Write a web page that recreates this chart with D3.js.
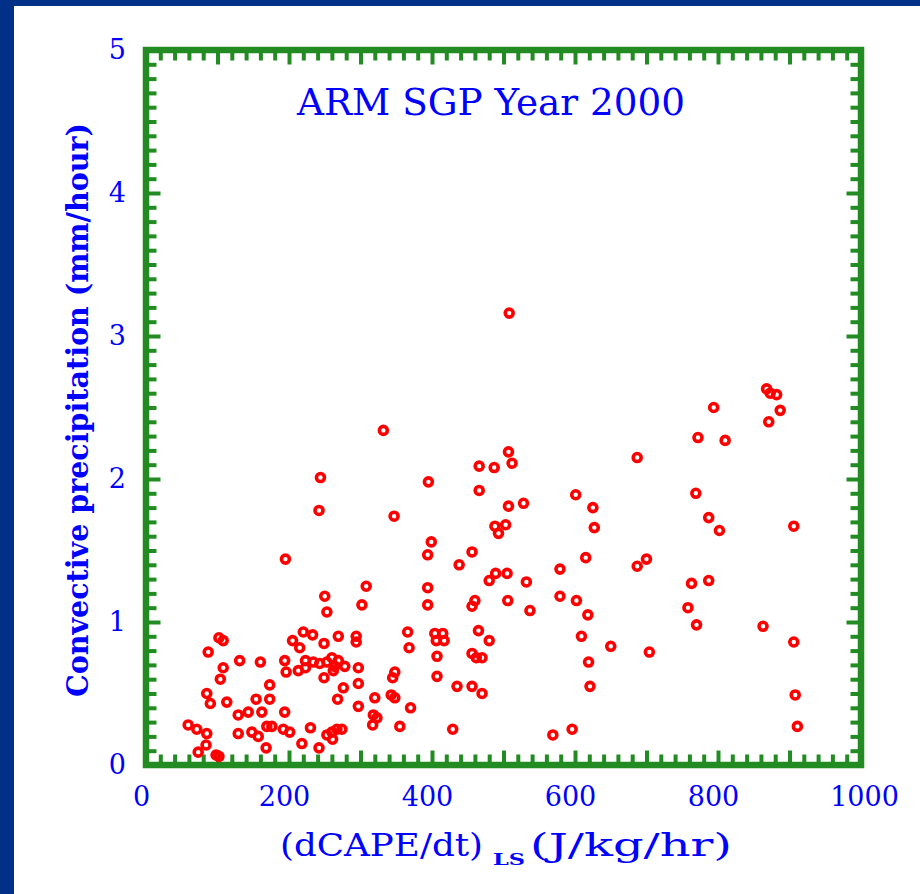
<!DOCTYPE html>
<html><head><meta charset="utf-8">
<script src="https://cdn.jsdelivr.net/npm/d3@7"></script>
<style>html,body{margin:0;padding:0;background:#ffffff;overflow:hidden;} svg{display:block}</style>
</head><body>
<svg id="chart" width="920" height="894"></svg>
<script>
// ---- data ----
const xValues = [59,71,85,84,73,98,102,87,102,108,108,104,85,90,113,131,160,173,173,154,
  143,129,162,169,176,148,129,157,168,194,192,201,218,230,242,253,260,267,274,261,
  250,253,302,308,205,220,233,215,249,269,294,294,194,196,213,223,223,234,243,253,
  260,264,269,262,278,249,297,297,276,268,297,317,195,244,242,332,507,512,466,487,
  395,466,507,528,347,488,503,493,399,394,456,438,480,489,505,532,394,394,460,456,
  506,537,366,368,404,415,406,417,407,465,480,456,462,470,407,348,345,435,456,470,
  320,343,348,370,318,323,355,429,569,868,873,882,887,871,794,772,810,687,601,625,
  627,769,787,802,906,615,579,687,700,763,787,579,602,618,758,770,863,609,650,704,
  906,619,621,908,596,911,508];
const yValues = [0.28,0.25,0.22,0.14,0.09,0.07,0.06,0.79,0.89,0.87,0.68,0.60,0.50,0.43,0.44,0.73,0.72,0.56,0.46,0.46,
  0.37,0.35,0.37,0.27,0.27,0.23,0.22,0.20,0.12,0.37,0.25,0.23,0.15,0.26,0.12,0.21,0.23,0.25,0.25,0.18,
  1.18,1.07,1.12,1.25,0.87,0.93,0.91,0.82,0.85,0.90,0.90,0.86,0.73,0.65,0.66,0.73,0.68,0.72,0.71,0.72,
  0.75,0.69,0.73,0.66,0.69,0.61,0.68,0.57,0.54,0.46,0.41,0.28,1.44,2.01,1.78,2.34,2.19,2.11,2.09,2.08,
  1.98,1.92,1.81,1.83,1.74,1.67,1.68,1.62,1.56,1.47,1.49,1.40,1.29,1.34,1.34,1.28,1.24,1.12,1.15,1.11,
  1.15,1.08,0.93,0.82,0.92,0.92,0.87,0.87,0.76,0.94,0.87,0.78,0.75,0.75,0.62,0.65,0.61,0.55,0.55,0.50,
  0.47,0.49,0.47,0.40,0.35,0.33,0.27,0.25,0.21,2.63,2.60,2.59,2.48,2.40,2.50,2.29,2.27,2.15,1.89,1.80,
  1.66,1.90,1.73,1.64,1.67,1.45,1.37,1.39,1.44,1.27,1.29,1.18,1.15,1.05,1.10,0.98,0.97,0.90,0.83,0.79,
  0.86,0.72,0.55,0.49,0.25,0.27,3.16];
const xTickLabels = [0,200,400,600,800,1000];
const yTickLabels = [0,1,2,3,4,5];
const titleText = "ARM SGP Year 2000";
const xLabelMain = "(dCAPE/dt)";
const xLabelSub = "LS";
const xLabelUnit = "(J/kg/hr)";
const yLabelText = "Convective precipitation (mm/hour)";

// ---- drawing ----
const svg = d3.select("#chart");
const green = "#228b22", blue = "#0000ff", red = "#ff0000";
const font = "'DejaVu Serif', serif";
svg.append("rect").attr("width",920).attr("height",894).attr("fill","#003087");
svg.append("rect").attr("x",14).attr("y",6).attr("width",906).attr("height",888).attr("fill","#ffffff");

const L=146, R=861, T=50, B=765;
const x = d3.scaleLinear().domain([0,1000]).range([L,R]);
const y = d3.scaleLinear().domain([0,5]).range([B,T]);

const majorX = d3.range(0,1001,100);
const minorX = d3.range(0,1001,20).filter(v => v % 100 !== 0);
const majorY = d3.range(0,6,1);
const minorY = d3.range(0,51).filter(i => i % 10 !== 0).map(i => i/10);

function tickAxis(gen, tr, values, size){
  const g = svg.append("g").attr("transform", tr)
    .call(gen.tickValues(values).tickSize(-size).tickSizeOuter(0).tickFormat(""));
  g.select(".domain").remove();
  g.selectAll(".tick line").attr("stroke", green).attr("stroke-width", 4);
  g.selectAll(".tick text").remove();
  return g;
}
tickAxis(d3.axisBottom(x), `translate(0,${B})`, minorX, 10.5);
tickAxis(d3.axisBottom(x), `translate(0,${B})`, majorX, 14.5);
tickAxis(d3.axisTop(x), `translate(0,${T})`, minorX, 10.5);
tickAxis(d3.axisTop(x), `translate(0,${T})`, majorX, 14.5);
tickAxis(d3.axisLeft(y), `translate(${L},0)`, minorY, 10.5);
tickAxis(d3.axisLeft(y), `translate(${L},0)`, majorY, 14.5);
tickAxis(d3.axisRight(y), `translate(${R},0)`, minorY, 10.5);
tickAxis(d3.axisRight(y), `translate(${R},0)`, majorY, 14.5);

// frame
svg.append("rect").attr("x",L).attr("y",T).attr("width",R-L).attr("height",B-T)
  .attr("fill","none").attr("stroke",green).attr("stroke-width",6.5);

// tick labels
const xl = svg.append("g").attr("transform",`translate(0,${B})`)
  .call(d3.axisBottom(x).tickValues(xTickLabels).tickSize(0).tickPadding(22).tickFormat(d3.format("d")));
xl.select(".domain").remove();
xl.selectAll("text").attr("font-family",font).attr("font-size",27).attr("fill",blue)
  .attr("dx", d => d === 1000 ? 3 : -5);
const yl = svg.append("g").attr("transform",`translate(${L},0)`)
  .call(d3.axisLeft(y).tickValues(yTickLabels).tickSize(0).tickPadding(20).tickFormat(d3.format("d")));
yl.select(".domain").remove();
yl.selectAll("text").attr("font-family",font).attr("font-size",27).attr("fill",blue);

// points
svg.append("g").selectAll("circle").data(xValues.map((v,i)=>[v,yValues[i]])).join("circle")
  .attr("cx", d => x(d[0])).attr("cy", d => y(d[1])).attr("r", 4)
  .attr("fill","none").attr("stroke",red).attr("stroke-width",3.6);

// title
svg.append("text").attr("x",491).attr("y",115).attr("text-anchor","middle")
  .attr("font-family",font).attr("font-size",37).attr("fill",blue)
  .attr("textLength",388).attr("lengthAdjust","spacingAndGlyphs").text(titleText);

// x label
const xg = svg.append("g").attr("font-family",font).attr("fill",blue);
xg.append("text").attr("x",280).attr("y",856).attr("font-size",31)
  .attr("textLength",203).attr("lengthAdjust","spacingAndGlyphs").text(xLabelMain);
xg.append("text").attr("x",493).attr("y",865).attr("font-size",17).attr("font-weight","bold")
  .attr("textLength",32).attr("lengthAdjust","spacingAndGlyphs").text(xLabelSub);
xg.append("text").attr("x",530).attr("y",856).attr("font-size",31)
  .attr("textLength",202).attr("lengthAdjust","spacingAndGlyphs").text(xLabelUnit);

// y label
svg.append("text").attr("transform","translate(88,410) rotate(-90)").attr("text-anchor","middle")
  .attr("font-family",font).attr("font-size",30).attr("font-weight","bold").attr("fill",blue)
  .attr("textLength",574).attr("lengthAdjust","spacingAndGlyphs").text(yLabelText);
</script>
</body></html>
